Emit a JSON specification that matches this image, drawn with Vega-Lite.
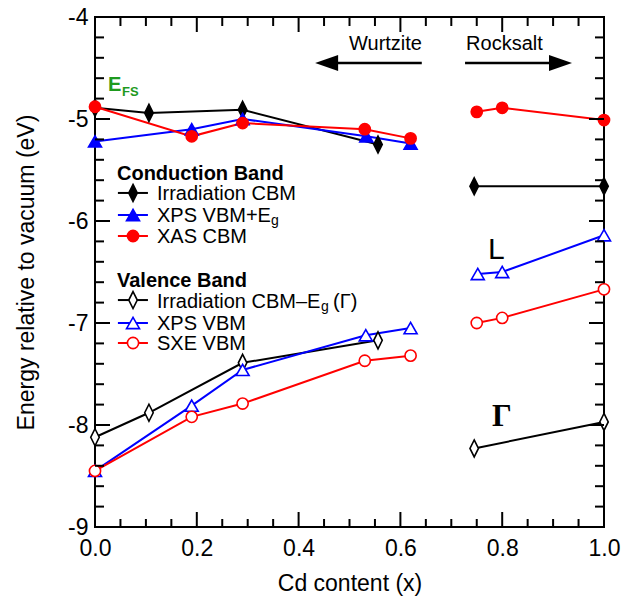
{
  "$schema": "https://vega.github.io/schema/vega-lite/v6.json",
  "width": 509,
  "height": 510,
  "autosize": {"type": "none"},
  "padding": {"left": 95, "top": 17, "right": 19, "bottom": 71},
  "background": "white",
  "config": {
    "view": {"stroke": "black", "strokeWidth": 2},
    "axis": {"grid": false, "domain": false, "labelColor": "black", "labelFont": "Liberation Sans", "titleFont": "Liberation Sans", "titleColor": "black", "labelFlush": false, "labelOverlap": false}
  },
  "datasets": {
    "main": [
      {"series": "Irradiation CBM", "phase": "W", "x": 0, "y": -4.89},
      {"series": "Irradiation CBM", "phase": "W", "x": 0.106, "y": -4.94},
      {"series": "Irradiation CBM", "phase": "W", "x": 0.29, "y": -4.91},
      {"series": "Irradiation CBM", "phase": "W", "x": 0.556, "y": -5.25},
      {"series": "Irradiation CBM", "phase": "R", "x": 0.745, "y": -5.66},
      {"series": "Irradiation CBM", "phase": "R", "x": 1.0, "y": -5.66},
      {"series": "XPS VBM+Eg", "phase": "W", "x": 0, "y": -5.22},
      {"series": "XPS VBM+Eg", "phase": "W", "x": 0.19, "y": -5.1},
      {"series": "XPS VBM+Eg", "phase": "W", "x": 0.29, "y": -5.0},
      {"series": "XPS VBM+Eg", "phase": "W", "x": 0.533, "y": -5.17},
      {"series": "XPS VBM+Eg", "phase": "W", "x": 0.62, "y": -5.24},
      {"series": "XAS CBM", "phase": "W", "x": 0, "y": -4.88},
      {"series": "XAS CBM", "phase": "W", "x": 0.19, "y": -5.17},
      {"series": "XAS CBM", "phase": "W", "x": 0.29, "y": -5.04},
      {"series": "XAS CBM", "phase": "W", "x": 0.53, "y": -5.1},
      {"series": "XAS CBM", "phase": "W", "x": 0.62, "y": -5.19},
      {"series": "XAS CBM", "phase": "R", "x": 0.75, "y": -4.93},
      {"series": "XAS CBM", "phase": "R", "x": 0.8, "y": -4.89},
      {"series": "XAS CBM", "phase": "R", "x": 1.0, "y": -5.01},
      {"series": "Irradiation CBM−Eg (Γ)", "phase": "W", "x": 0, "y": -8.12},
      {"series": "Irradiation CBM−Eg (Γ)", "phase": "W", "x": 0.106, "y": -7.88},
      {"series": "Irradiation CBM−Eg (Γ)", "phase": "W", "x": 0.29, "y": -7.39},
      {"series": "Irradiation CBM−Eg (Γ)", "phase": "W", "x": 0.556, "y": -7.17},
      {"series": "Irradiation CBM−Eg (Γ)", "phase": "R", "x": 0.745, "y": -8.23},
      {"series": "Irradiation CBM−Eg (Γ)", "phase": "R", "x": 1.0, "y": -7.97},
      {"series": "XPS VBM", "phase": "W", "x": 0, "y": -8.45},
      {"series": "XPS VBM", "phase": "W", "x": 0.19, "y": -7.81},
      {"series": "XPS VBM", "phase": "W", "x": 0.29, "y": -7.46},
      {"series": "XPS VBM", "phase": "W", "x": 0.532, "y": -7.12},
      {"series": "XPS VBM", "phase": "W", "x": 0.62, "y": -7.05},
      {"series": "XPS VBM", "phase": "R", "x": 0.752, "y": -6.52},
      {"series": "XPS VBM", "phase": "R", "x": 0.8, "y": -6.5},
      {"series": "XPS VBM", "phase": "R", "x": 1.0, "y": -6.14},
      {"series": "SXE VBM", "phase": "W", "x": 0, "y": -8.45},
      {"series": "SXE VBM", "phase": "W", "x": 0.19, "y": -7.92},
      {"series": "SXE VBM", "phase": "W", "x": 0.29, "y": -7.79},
      {"series": "SXE VBM", "phase": "W", "x": 0.53, "y": -7.37},
      {"series": "SXE VBM", "phase": "W", "x": 0.62, "y": -7.32},
      {"series": "SXE VBM", "phase": "R", "x": 0.75, "y": -7.0},
      {"series": "SXE VBM", "phase": "R", "x": 0.8, "y": -6.95},
      {"series": "SXE VBM", "phase": "R", "x": 1.0, "y": -6.67}
    ],
    "xt": [
      {"v": 0.0, "major": true}, {"v": 0.05, "major": false}, {"v": 0.1, "major": false}, {"v": 0.15, "major": false},
      {"v": 0.2, "major": true}, {"v": 0.25, "major": false}, {"v": 0.3, "major": false}, {"v": 0.35, "major": false},
      {"v": 0.4, "major": true}, {"v": 0.45, "major": false}, {"v": 0.5, "major": false}, {"v": 0.55, "major": false},
      {"v": 0.6, "major": true}, {"v": 0.65, "major": false}, {"v": 0.7, "major": false}, {"v": 0.75, "major": false},
      {"v": 0.8, "major": true}, {"v": 0.85, "major": false}, {"v": 0.9, "major": false}, {"v": 0.95, "major": false},
      {"v": 1.0, "major": true}
    ],
    "yt": [
      {"v": -9, "major": true}, {"v": -8.8, "major": false}, {"v": -8.6, "major": false}, {"v": -8.4, "major": false}, {"v": -8.2, "major": false},
      {"v": -8, "major": true}, {"v": -7.8, "major": false}, {"v": -7.6, "major": false}, {"v": -7.4, "major": false}, {"v": -7.2, "major": false},
      {"v": -7, "major": true}, {"v": -6.8, "major": false}, {"v": -6.6, "major": false}, {"v": -6.4, "major": false}, {"v": -6.2, "major": false},
      {"v": -6, "major": true}, {"v": -5.8, "major": false}, {"v": -5.6, "major": false}, {"v": -5.4, "major": false}, {"v": -5.2, "major": false},
      {"v": -5, "major": true}, {"v": -4.8, "major": false}, {"v": -4.6, "major": false}, {"v": -4.4, "major": false}, {"v": -4.2, "major": false},
      {"v": -4, "major": true}
    ],
    "leg": [
      {"series": "Irradiation CBM", "x": 0.045, "x2": 0.104, "xm": 0.0747, "y": -5.725},
      {"series": "XPS VBM+Eg", "x": 0.045, "x2": 0.104, "xm": 0.0747, "y": -5.941},
      {"series": "XAS CBM", "x": 0.045, "x2": 0.104, "xm": 0.0747, "y": -6.147},
      {"series": "Irradiation CBM−Eg (Γ)", "x": 0.045, "x2": 0.104, "xm": 0.0747, "y": -6.775},
      {"series": "XPS VBM", "x": 0.045, "x2": 0.104, "xm": 0.0747, "y": -7.0},
      {"series": "SXE VBM", "x": 0.045, "x2": 0.104, "xm": 0.0747, "y": -7.196}
    ],
    "txt": [
      {"label": "Irradiation CBM", "x": 0.1218, "y": -5.794},
      {"label": "XPS VBM+E", "x": 0.1218, "y": -6.01},
      {"label": "XAS CBM", "x": 0.1218, "y": -6.216},
      {"label": "Irradiation CBM–E", "x": 0.1218, "y": -6.853},
      {"label": "(Γ)", "x": 0.4676, "y": -6.853},
      {"label": "XPS VBM", "x": 0.1218, "y": -7.069},
      {"label": "SXE VBM", "x": 0.1218, "y": -7.265},
      {"label": "Wurtzite", "x": 0.499, "y": -4.324},
      {"label": "Rocksalt", "x": 0.729, "y": -4.324}
    ],
    "hdr": [
      {"label": "Conduction Band", "x": 0.0432, "y": -5.6},
      {"label": "Valence Band", "x": 0.0432, "y": -6.647}
    ],
    "sub": [
      {"label": "g", "x": 0.3458, "y": -6.04},
      {"label": "g", "x": 0.444, "y": -6.882}
    ],
    "ann": [
      {"label": "L", "x": 0.772, "y": -6.373},
      {"label": "Γ", "x": 0.78, "y": -8.01},
      {"label": "E", "x": 0.0255, "y": -4.725},
      {"label": "FS", "x": 0.053, "y": -4.775}
    ],
    "arrows": [
      {"dir": "left", "xs": 0.455, "xe": 0.642, "xh": 0.455, "y": -4.451},
      {"dir": "right", "xs": 0.727, "xe": 0.9145, "xh": 0.9145, "y": -4.451}
    ]
  },
  "layer": [
    {
      "mark": {"type": "rule", "color": "#b3b3b3", "strokeWidth": 4, "strokeDash": [4, 3]},
      "encoding": {"x": {"datum": 0.69, "type": "quantitative"}}
    },
    {
      "mark": {"type": "rule", "color": "#1e9a1e", "strokeWidth": 5, "strokeDash": [11, 7]},
      "encoding": {"y": {"datum": -4.9, "type": "quantitative"}}
    },
    {
      "data": {"name": "main"},
      "mark": {"type": "line", "strokeWidth": 2},
      "encoding": {
        "x": {"field": "x", "type": "quantitative", "scale": {"domain": [0, 1], "nice": false, "zero": false},
          "axis": {"orient": "bottom", "values": [0, 0.2, 0.4, 0.6, 0.8, 1], "format": ".1f", "ticks": false, "tickSize": 0, "labelPadding": 28, "labelBaseline": "alphabetic", "labelFontSize": 23, "title": "Cd content (x)", "titleFontSize": 23, "titleFontWeight": "normal", "titleX": 254.5, "titleY": 63, "titleBaseline": "alphabetic", "titleAlign": "center"}},
        "y": {"field": "y", "type": "quantitative", "scale": {"domain": [-9, -4], "nice": false, "zero": false},
          "axis": {"orient": "left", "values": [-9, -8, -7, -6, -5, -4], "labelExpr": "datum.value < 0 ? '-' + abs(datum.value) : datum.label", "ticks": false, "tickSize": 0, "labelPadding": 7, "labelFontSize": 23, "labelBaseline": "middle", "title": "Energy relative to vacuum (eV)", "titleFontSize": 23, "titleFontWeight": "normal", "titleX": -62, "titleY": 255, "titleAngle": 270, "titleBaseline": "alphabetic", "titleAlign": "center"}},
        "stroke": {"field": "series", "type": "nominal", "legend": null,
          "scale": {"domain": ["Irradiation CBM", "XPS VBM+Eg", "XAS CBM", "Irradiation CBM−Eg (Γ)", "XPS VBM", "SXE VBM"], "range": ["#000000", "#0000ff", "#ff0000", "#000000", "#0000ff", "#ff0000"]}},
        "detail": {"field": "phase", "type": "nominal"},
        "order": {"field": "x", "type": "quantitative"}
      }
    },
    {
      "data": {"name": "main"},
      "mark": {"type": "point", "strokeWidth": 1.6, "opacity": 1},
      "encoding": {
        "x": {"field": "x", "type": "quantitative"},
        "y": {"field": "y", "type": "quantitative"},
        "stroke": {"field": "series", "type": "nominal", "legend": null},
        "fill": {"field": "series", "type": "nominal", "legend": null,
          "scale": {"domain": ["Irradiation CBM", "XPS VBM+Eg", "XAS CBM", "Irradiation CBM−Eg (Γ)", "XPS VBM", "SXE VBM"], "range": ["#000000", "#0000ff", "#ff0000", "#ffffff", "#ffffff", "#ffffff"]}},
        "shape": {"field": "series", "type": "nominal", "legend": null,
          "scale": {"domain": ["Irradiation CBM", "XPS VBM+Eg", "XAS CBM", "Irradiation CBM−Eg (Γ)", "XPS VBM", "SXE VBM"], "range": ["M0,-1L0.5,0L0,1L-0.5,0Z", "triangle-up", "circle", "M0,-1L0.5,0L0,1L-0.5,0Z", "triangle-up", "circle"]}},
        "size": {"condition": [{"test": "indexof(datum.series, 'Irradiation') === 0", "value": 289}, {"test": "indexof(datum.series, 'XPS') === 0", "value": 169}], "value": 125}
      }
    },
    {
      "data": {"name": "leg"},
      "mark": {"type": "rule", "strokeWidth": 2},
      "encoding": {
        "x": {"field": "x", "type": "quantitative"},
        "x2": {"field": "x2"},
        "y": {"field": "y", "type": "quantitative"},
        "stroke": {"field": "series", "type": "nominal", "legend": null}
      }
    },
    {
      "data": {"name": "leg"},
      "mark": {"type": "point", "strokeWidth": 1.6, "opacity": 1},
      "encoding": {
        "x": {"field": "xm", "type": "quantitative"},
        "y": {"field": "y", "type": "quantitative"},
        "stroke": {"field": "series", "type": "nominal", "legend": null},
        "fill": {"field": "series", "type": "nominal", "legend": null},
        "shape": {"field": "series", "type": "nominal", "legend": null},
        "size": {"condition": [{"test": "indexof(datum.series, 'Irradiation') === 0", "value": 289}, {"test": "indexof(datum.series, 'XPS') === 0", "value": 169}], "value": 125}
      }
    },
    {
      "data": {"name": "txt"},
      "mark": {"type": "text", "font": "Liberation Sans", "fontSize": 20, "align": "left", "baseline": "alphabetic", "color": "black"},
      "encoding": {
        "x": {"field": "x", "type": "quantitative"},
        "y": {"field": "y", "type": "quantitative"},
        "text": {"field": "label", "type": "nominal"}
      }
    },
    {
      "data": {"name": "hdr"},
      "mark": {"type": "text", "font": "Liberation Sans", "fontSize": 20, "fontWeight": "bold", "align": "left", "baseline": "alphabetic", "color": "black"},
      "encoding": {
        "x": {"field": "x", "type": "quantitative"},
        "y": {"field": "y", "type": "quantitative"},
        "text": {"field": "label", "type": "nominal"}
      }
    },
    {
      "data": {"name": "sub"},
      "mark": {"type": "text", "font": "Liberation Sans", "fontSize": 14, "align": "left", "baseline": "alphabetic", "color": "black"},
      "encoding": {
        "x": {"field": "x", "type": "quantitative"},
        "y": {"field": "y", "type": "quantitative"},
        "text": {"field": "label", "type": "nominal"}
      }
    },
    {
      "data": {"name": "ann"},
      "transform": [{"filter": "datum.label === 'L'"}],
      "mark": {"type": "text", "font": "Liberation Sans", "fontSize": 30, "align": "left", "baseline": "alphabetic", "color": "black"},
      "encoding": {
        "x": {"field": "x", "type": "quantitative"},
        "y": {"field": "y", "type": "quantitative"},
        "text": {"field": "label", "type": "nominal"}
      }
    },
    {
      "data": {"name": "ann"},
      "transform": [{"filter": "datum.label === 'Γ'"}],
      "mark": {"type": "text", "font": "Liberation Serif", "fontSize": 31, "fontWeight": "bold", "align": "left", "baseline": "alphabetic", "color": "black"},
      "encoding": {
        "x": {"field": "x", "type": "quantitative"},
        "y": {"field": "y", "type": "quantitative"},
        "text": {"field": "label", "type": "nominal"}
      }
    },
    {
      "data": {"name": "ann"},
      "transform": [{"filter": "datum.label === 'E'"}],
      "mark": {"type": "text", "font": "Liberation Sans", "fontSize": 20, "fontWeight": "bold", "align": "left", "baseline": "alphabetic", "color": "#1e9a1e"},
      "encoding": {
        "x": {"field": "x", "type": "quantitative"},
        "y": {"field": "y", "type": "quantitative"},
        "text": {"field": "label", "type": "nominal"}
      }
    },
    {
      "data": {"name": "ann"},
      "transform": [{"filter": "datum.label === 'FS'"}],
      "mark": {"type": "text", "font": "Liberation Sans", "fontSize": 13, "fontWeight": "bold", "align": "left", "baseline": "alphabetic", "color": "#1e9a1e"},
      "encoding": {
        "x": {"field": "x", "type": "quantitative"},
        "y": {"field": "y", "type": "quantitative"},
        "text": {"field": "label", "type": "nominal"}
      }
    },
    {
      "data": {"name": "arrows"},
      "mark": {"type": "rule", "strokeWidth": 2.5, "color": "black"},
      "encoding": {
        "x": {"field": "xs", "type": "quantitative"},
        "x2": {"field": "xe"},
        "y": {"field": "y", "type": "quantitative"}
      }
    },
    {
      "data": {"name": "arrows"},
      "transform": [{"filter": "datum.dir === 'left'"}],
      "mark": {"type": "point", "shape": "M-1,0L1,-0.7L1,0.7Z", "size": 529, "filled": true, "color": "black", "opacity": 1},
      "encoding": {
        "x": {"field": "xh", "type": "quantitative"},
        "y": {"field": "y", "type": "quantitative"}
      }
    },
    {
      "data": {"name": "arrows"},
      "transform": [{"filter": "datum.dir === 'right'"}],
      "mark": {"type": "point", "shape": "M1,0L-1,-0.7L-1,0.7Z", "size": 529, "filled": true, "color": "black", "opacity": 1},
      "encoding": {
        "x": {"field": "xh", "type": "quantitative"},
        "y": {"field": "y", "type": "quantitative"}
      }
    },
    {
      "data": {"name": "xt"},
      "transform": [{"filter": "datum.major"}],
      "mark": {"type": "point", "shape": "M0,0L0,-2", "size": 225, "filled": false, "color": "black", "strokeWidth": 2, "opacity": 1},
      "encoding": {"x": {"field": "v", "type": "quantitative"}, "y": {"datum": -9, "type": "quantitative"}}
    },
    {
      "data": {"name": "xt"},
      "transform": [{"filter": "!datum.major"}],
      "mark": {"type": "point", "shape": "M0,0L0,-2", "size": 64, "filled": false, "color": "black", "strokeWidth": 2, "opacity": 1},
      "encoding": {"x": {"field": "v", "type": "quantitative"}, "y": {"datum": -9, "type": "quantitative"}}
    },
    {
      "data": {"name": "xt"},
      "transform": [{"filter": "datum.major"}],
      "mark": {"type": "point", "shape": "M0,0L0,2", "size": 225, "filled": false, "color": "black", "strokeWidth": 2, "opacity": 1},
      "encoding": {"x": {"field": "v", "type": "quantitative"}, "y": {"datum": -4, "type": "quantitative"}}
    },
    {
      "data": {"name": "xt"},
      "transform": [{"filter": "!datum.major"}],
      "mark": {"type": "point", "shape": "M0,0L0,2", "size": 81, "filled": false, "color": "black", "strokeWidth": 2, "opacity": 1},
      "encoding": {"x": {"field": "v", "type": "quantitative"}, "y": {"datum": -4, "type": "quantitative"}}
    },
    {
      "data": {"name": "yt"},
      "transform": [{"filter": "datum.major"}],
      "mark": {"type": "point", "shape": "M0,0L2,0", "size": 225, "filled": false, "color": "black", "strokeWidth": 2, "opacity": 1},
      "encoding": {"y": {"field": "v", "type": "quantitative"}, "x": {"datum": 0, "type": "quantitative"}}
    },
    {
      "data": {"name": "yt"},
      "transform": [{"filter": "!datum.major"}],
      "mark": {"type": "point", "shape": "M0,0L2,0", "size": 81, "filled": false, "color": "black", "strokeWidth": 2, "opacity": 1},
      "encoding": {"y": {"field": "v", "type": "quantitative"}, "x": {"datum": 0, "type": "quantitative"}}
    },
    {
      "data": {"name": "yt"},
      "transform": [{"filter": "datum.major"}],
      "mark": {"type": "point", "shape": "M0,0L-2,0", "size": 225, "filled": false, "color": "black", "strokeWidth": 2, "opacity": 1},
      "encoding": {"y": {"field": "v", "type": "quantitative"}, "x": {"datum": 1, "type": "quantitative"}}
    },
    {
      "data": {"name": "yt"},
      "transform": [{"filter": "!datum.major"}],
      "mark": {"type": "point", "shape": "M0,0L-2,0", "size": 81, "filled": false, "color": "black", "strokeWidth": 2, "opacity": 1},
      "encoding": {"y": {"field": "v", "type": "quantitative"}, "x": {"datum": 1, "type": "quantitative"}}
    }
  ]
}
